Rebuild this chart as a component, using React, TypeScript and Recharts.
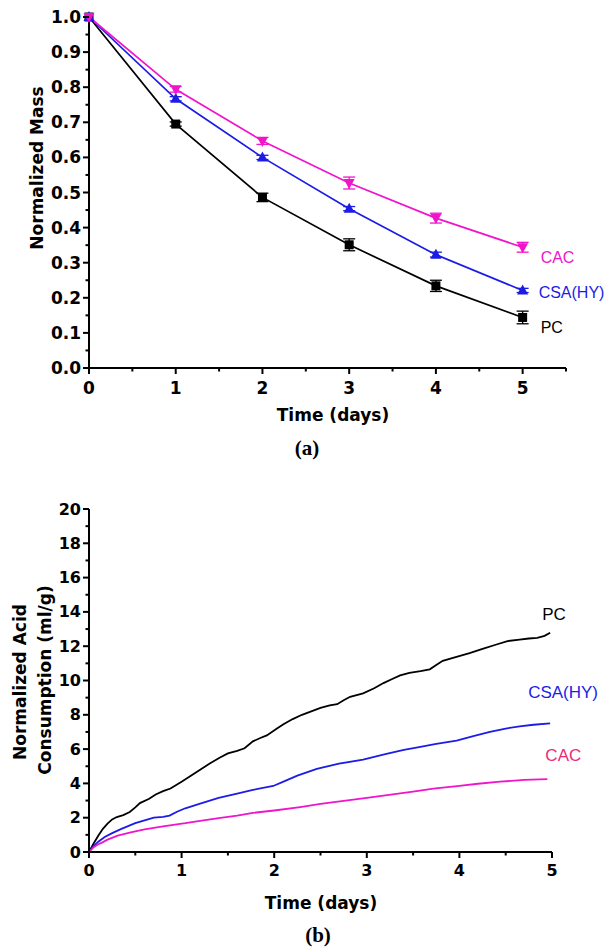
import React from 'react';
import { LineChart, Line, XAxis, YAxis, ErrorBar, LabelList } from 'recharts';

// ---------- (a) normalized mass ----------
const massDays = [0, 1, 2, 3, 4, 5];
const massPC = [1.0, 0.695, 0.486, 0.351, 0.234, 0.144];
const massPCErr = [0, 0.006, 0.012, 0.017, 0.016, 0.018];
const massCSA = [1.0, 0.767, 0.6, 0.454, 0.323, 0.221];
const massCSAErr = [0, 0.006, 0.006, 0.006, 0.007, 0.006];
const massCAC = [1.0, 0.794, 0.647, 0.527, 0.427, 0.344];
const massCACErr = [0, 0.008, 0.01, 0.017, 0.014, 0.014];

const massXMajor = [0, 1, 2, 3, 4, 5];
const massXMinor = [0.5, 1.5, 2.5, 3.5, 4.5, 5.5];
const massYMajor = [0, 0.1, 0.2, 0.3, 0.4, 0.5, 0.6, 0.7, 0.8, 0.9, 1.0];
const massYMinor = [0.05, 0.15, 0.25, 0.35, 0.45, 0.55, 0.65, 0.75, 0.85, 0.95];

// ---------- (b) normalized acid consumption ----------
const acidPCTime = [0, 0.05, 0.1, 0.15, 0.2, 0.25, 0.3, 0.37, 0.44, 0.5, 0.55, 0.65, 0.72, 0.8, 0.88, 1.0, 1.1, 1.2, 1.3, 1.41, 1.5, 1.6, 1.68, 1.77, 1.85, 1.92, 2.03, 2.1, 2.2, 2.3, 2.4, 2.5, 2.6, 2.68, 2.75, 2.82, 2.96, 3.08, 3.18, 3.28, 3.36, 3.46, 3.58, 3.68, 3.75, 3.82, 3.95, 4.11, 4.25, 4.4, 4.52, 4.65, 4.75, 4.84, 4.92, 4.98];
const acidPC = [0, 0.5, 0.95, 1.35, 1.65, 1.9, 2.04, 2.15, 2.33, 2.6, 2.85, 3.1, 3.35, 3.55, 3.7, 4.1, 4.45, 4.8, 5.15, 5.5, 5.75, 5.9, 6.05, 6.45, 6.65, 6.8, 7.2, 7.45, 7.75, 8.0, 8.2, 8.4, 8.55, 8.62, 8.85, 9.05, 9.25, 9.55, 9.85, 10.1, 10.3, 10.45, 10.55, 10.65, 10.9, 11.15, 11.35, 11.6, 11.85, 12.1, 12.3, 12.38, 12.45, 12.48, 12.6, 12.78];
const acidCSATime = [0, 0.05, 0.1, 0.17, 0.25, 0.35, 0.5, 0.6, 0.7, 0.8, 0.87, 0.95, 1.04, 1.2, 1.4, 1.6, 1.77, 1.99, 2.1, 2.25, 2.46, 2.7, 2.96, 3.2, 3.4, 3.55, 3.75, 3.97, 4.15, 4.33, 4.5, 4.65, 4.8, 4.98];
const acidCSA = [0, 0.35, 0.6, 0.88, 1.1, 1.35, 1.68, 1.85, 2.0, 2.05, 2.12, 2.35, 2.55, 2.82, 3.15, 3.4, 3.62, 3.85, 4.1, 4.45, 4.85, 5.15, 5.38, 5.7, 5.95, 6.1, 6.3, 6.5, 6.75, 7.0, 7.2, 7.32, 7.42, 7.5];
const acidCACTime = [0, 0.05, 0.1, 0.14, 0.2, 0.31, 0.45, 0.6, 0.8, 1.04, 1.2, 1.4, 1.6, 1.77, 2.0, 2.28, 2.5, 2.75, 3.0, 3.3, 3.5, 3.72, 4.0, 4.2, 4.44, 4.7, 4.95];
const acidCAC = [0, 0.28, 0.45, 0.55, 0.72, 0.95, 1.15, 1.32, 1.5, 1.68, 1.82, 1.98, 2.12, 2.28, 2.42, 2.62, 2.8, 2.98, 3.15, 3.38, 3.52, 3.7, 3.85, 3.98, 4.1, 4.2, 4.25];

const acidXMajor = [0, 1, 2, 3, 4, 5];
const acidXMinor = [0.5, 1.5, 2.5, 3.5, 4.5];
const acidYMajor = [0, 2, 4, 6, 8, 10, 12, 14, 16, 18, 20];
const acidYMinor = [1, 3, 5, 7, 9, 11, 13, 15, 17, 19];

// ---------- styling ----------
const BLACK = '#000000';
const BLUE = '#1c1ce6';
const MAGENTA = '#f014cc';
const CAC_LABEL_B = '#ec2a78';
const AXIS_FONT = '"DejaVu Sans", sans-serif';
const LABEL_FONT = '"Liberation Sans", Arial, sans-serif';

const massData = massDays.map((t, i) => ({
  t,
  pc: massPC[i],
  pcErr: massPCErr[i],
  csa: massCSA[i],
  csaErr: massCSAErr[i],
  cac: massCAC[i],
  cacErr: massCACErr[i],
}));

const toPoints = (ts: number[], vs: number[]) => ts.map((t, i) => ({ t, v: vs[i] }));
const acidPCData = toPoints(acidPCTime, acidPC);
const acidCSAData = toPoints(acidCSATime, acidCSA);
const acidCACData = toPoints(acidCACTime, acidCAC);

const Y_TS = 6;
const Y_TM = 2;
const X_TS = 6;
const X_TM = 8;

const isIn = (list: number[], v: number) => list.some((m) => Math.abs(m - v) < 1e-9);

const makeYTick = (majors: number[], fontSize: number, fmt: (v: number) => string) => (p: any) => {
  const v = p.payload.value;
  const major = isIn(majors, v);
  const axisX = p.x + Y_TS + Y_TM;
  const len = major ? 6 : 3.5;
  return (
    <g>
      <line x1={axisX - len} x2={axisX} y1={p.y} y2={p.y} stroke={BLACK} strokeWidth={2} />
      {major && (
        <text x={p.x} y={p.y} textAnchor="end" dominantBaseline="central" fontFamily={AXIS_FONT} fontWeight="bold" fontSize={fontSize} fill={BLACK}>
          {fmt(v)}
        </text>
      )}
    </g>
  );
};

const makeXTick = (majors: number[], fontSize: number, margin: number) => (p: any) => {
  const v = p.payload.value;
  const major = isIn(majors, v);
  const axisY = p.y - X_TS - margin;
  const len = major ? 6 : 3.5;
  return (
    <g>
      <line x1={p.x} x2={p.x} y1={axisY} y2={axisY + len} stroke={BLACK} strokeWidth={2} />
      {major && (
        <text x={p.x} y={p.y} dy="0.71em" textAnchor="middle" fontFamily={AXIS_FONT} fontWeight="bold" fontSize={fontSize} fill={BLACK}>
          {String(v)}
        </text>
      )}
    </g>
  );
};

const squareDot = (props: any) => {
  const { cx, cy, index } = props;
  if (cx == null || cy == null) return <g key={`s-${index}`} />;
  return <rect key={`s-${index}`} x={cx - 4.5} y={cy - 4.5} width={9} height={9} fill={BLACK} />;
};

const upDot = (props: any) => {
  const { cx, cy, index } = props;
  if (cx == null || cy == null) return <g key={`u-${index}`} />;
  return <polygon key={`u-${index}`} points={`${cx},${cy - 6} ${cx - 5.5},${cy + 4} ${cx + 5.5},${cy + 4}`} fill={BLUE} />;
};

const downDot = (props: any) => {
  const { cx, cy, index } = props;
  if (cx == null || cy == null) return <g key={`d-${index}`} />;
  return <polygon key={`d-${index}`} points={`${cx - 5.5},${cy - 4} ${cx + 5.5},${cy - 4} ${cx},${cy + 6}`} fill={MAGENTA} />;
};

// Series name written beside the last point of a curve
const endLabel = (name: string, color: string, count: number, dx: number, dy: number, fontSize: number) => (p: any) => {
  if (p.index !== count - 1) return null;
  return (
    <text x={p.x + dx} y={p.y + dy} dominantBaseline="central" fontFamily={LABEL_FONT} fontSize={fontSize} fill={color}>
      {name}
    </text>
  );
};

const titleStyle: React.CSSProperties = {
  position: 'absolute',
  fontFamily: AXIS_FONT,
  fontWeight: 'bold',
  fontSize: 17,
  lineHeight: 1,
  whiteSpace: 'nowrap',
  color: BLACK,
};

const rotated = (cx: number, cy: number): React.CSSProperties => ({
  ...titleStyle,
  left: cx,
  top: cy,
  transform: 'translate(-50%, -50%) rotate(-90deg)',
});

const centered = (cx: number, cy: number): React.CSSProperties => ({
  ...titleStyle,
  left: cx,
  top: cy,
  transform: 'translate(-50%, -50%)',
});

const panelTag = (cx: number, cy: number): React.CSSProperties => ({
  position: 'absolute',
  left: cx,
  top: cy,
  transform: 'translate(-50%, -50%)',
  fontFamily: '"Liberation Serif", "Times New Roman", serif',
  fontWeight: 'bold',
  fontSize: 21,
  lineHeight: 1,
  color: BLACK,
});

export default function App() {
  return (
    <div style={{ position: 'absolute', left: 0, top: 0, width: 614, height: 947, background: '#fff', overflow: 'hidden' }}>
      {/* (a) */}
      <div style={{ position: 'absolute', left: 0, top: 0 }}>
        <LineChart width={614} height={470} data={massData} margin={{ top: 17, right: 48, bottom: 72, left: 29 }}>
          <XAxis
            dataKey="t"
            type="number"
            domain={[0, 5.5]}
            ticks={[...massXMajor, ...massXMinor].sort((a, b) => a - b)}
            interval={0}
            height={30}
            tickSize={X_TS}
            tickMargin={X_TM}
            tickLine={false}
            tick={makeXTick(massXMajor, 17, X_TM)}
            axisLine={{ stroke: BLACK, strokeWidth: 2 }}
          />
          <YAxis
            type="number"
            domain={[0, 1]}
            ticks={[...massYMajor, ...massYMinor].sort((a, b) => a - b)}
            interval={0}
            width={60}
            tickSize={Y_TS}
            tickMargin={Y_TM}
            tickLine={false}
            tick={makeYTick(massYMajor, 17, (v) => v.toFixed(1))}
            axisLine={{ stroke: BLACK, strokeWidth: 2 }}
          />
          <Line dataKey="pc" stroke={BLACK} strokeWidth={1.7} dot={squareDot} isAnimationActive={false}>
            <ErrorBar dataKey="pcErr" width={6} strokeWidth={1.3} stroke={BLACK} direction="y" />
            <LabelList dataKey="pc" content={endLabel('PC', BLACK, massDays.length, 18, 10, 16)} />
          </Line>
          <Line dataKey="csa" stroke={BLUE} strokeWidth={1.7} dot={upDot} isAnimationActive={false}>
            <ErrorBar dataKey="csaErr" width={6} strokeWidth={1.3} stroke={BLUE} direction="y" />
            <LabelList dataKey="csa" content={endLabel('CSA(HY)', BLUE, massDays.length, 16, 2, 16)} />
          </Line>
          <Line dataKey="cac" stroke={MAGENTA} strokeWidth={1.7} dot={downDot} isAnimationActive={false}>
            <ErrorBar dataKey="cacErr" width={6} strokeWidth={1.3} stroke={MAGENTA} direction="y" />
            <LabelList dataKey="cac" content={endLabel('CAC', MAGENTA, massDays.length, 18, 10, 16)} />
          </Line>
        </LineChart>
      </div>
      <div style={rotated(37, 168)}>Normalized Mass</div>
      <div style={centered(333, 415)}>Time (days)</div>
      <div style={panelTag(307, 448)}>(a)</div>

      {/* (b) */}
      <div style={{ position: 'absolute', left: 0, top: 470 }}>
        <LineChart width={614} height={477} margin={{ top: 39, right: 62, bottom: 65, left: 29 }}>
          <XAxis
            dataKey="t"
            type="number"
            domain={[0, 5]}
            ticks={[...acidXMajor, ...acidXMinor].sort((a, b) => a - b)}
            interval={0}
            height={30}
            tickSize={X_TS}
            tickMargin={X_TM - 1}
            tickLine={false}
            tick={makeXTick(acidXMajor, 16, X_TM - 1)}
            axisLine={{ stroke: BLACK, strokeWidth: 2 }}
            allowDuplicatedCategory={false}
          />
          <YAxis
            type="number"
            domain={[0, 20]}
            ticks={[...acidYMajor, ...acidYMinor].sort((a, b) => a - b)}
            interval={0}
            width={60}
            tickSize={Y_TS}
            tickMargin={Y_TM}
            tickLine={false}
            tick={makeYTick(acidYMajor, 16, (v) => String(v))}
            axisLine={{ stroke: BLACK, strokeWidth: 2 }}
          />
          <Line data={acidPCData} dataKey="v" stroke={BLACK} strokeWidth={1.8} dot={false} isAnimationActive={false}>
            <LabelList dataKey="v" content={endLabel('PC', BLACK, acidPCData.length, -8, -18, 17)} />
          </Line>
          <Line data={acidCSAData} dataKey="v" stroke={BLUE} strokeWidth={1.8} dot={false} isAnimationActive={false}>
            <LabelList dataKey="v" content={endLabel('CSA(HY)', BLUE, acidCSAData.length, -22, -31, 17)} />
          </Line>
          <Line data={acidCACData} dataKey="v" stroke={MAGENTA} strokeWidth={1.8} dot={false} isAnimationActive={false}>
            <LabelList dataKey="v" content={endLabel('CAC', CAC_LABEL_B, acidCACData.length, -2, -24, 17)} />
          </Line>
        </LineChart>
      </div>
      <div style={rotated(20, 682)}>Normalized Acid</div>
      <div style={rotated(45, 680)}>Consumption (ml/g)</div>
      <div style={centered(321, 903)}>Time (days)</div>
      <div style={panelTag(318, 935)}>(b)</div>
    </div>
  );
}
